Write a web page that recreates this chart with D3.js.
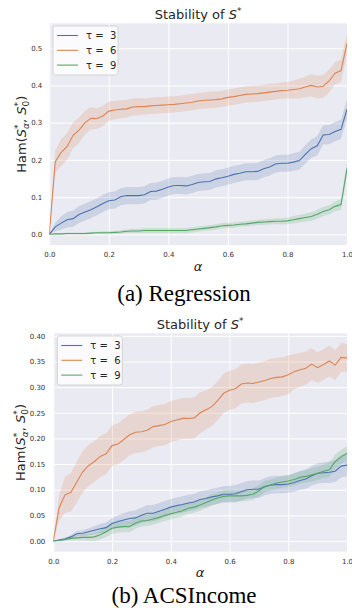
<!DOCTYPE html>
<html>
<head>
<meta charset="utf-8">
<script src="https://cdnjs.cloudflare.com/ajax/libs/d3/7.8.5/d3.min.js"></script>
<style>
  body { margin: 0; background: #fff; }
  svg { display: block; font-family: "DejaVu Sans", sans-serif; }
</style>
</head>
<body>
<div id="chart-area"></div>
<script>
// alpha grid (x values)
var alpha = [0, 0.02, 0.04, 0.06, 0.08, 0.10, 0.12, 0.14, 0.16, 0.18,
  0.20, 0.22, 0.24, 0.26, 0.28, 0.30, 0.32, 0.34, 0.36, 0.38,
  0.40, 0.42, 0.44, 0.46, 0.48, 0.50, 0.52, 0.54, 0.56, 0.58,
  0.60, 0.62, 0.64, 0.66, 0.68, 0.70, 0.72, 0.74, 0.76, 0.78,
  0.80, 0.82, 0.84, 0.86, 0.88, 0.90, 0.92, 0.94, 0.96, 0.98, 1.00];

var seriesNames = ["τ =  3", "τ =  6", "τ =  9"];
var xTicks = [0, 0.2, 0.4, 0.6, 0.8, 1.0];

// (a) Regression
var regTau3 = [0, .020, .030, .039, .042, .053, .060, .066, .074, .083, .090, .092, .101, .104, .104, .104, .106, .115, .116, .121,
  .127, .131, .131, .130, .134, .139, .141, .142, .149, .152, .156, .161, .164, .168, .168, .169, .176, .181, .189, .191,
  .191, .194, .198, .215, .230, .238, .267, .268, .276, .282, .336];
var regTau3Sd = [0, .012, .018, .021, .022, .023, .023, .023, .023, .023, .023, .023, .023, .023, .023, .023, .023, .023, .023, .023,
  .023, .023, .023, .023, .023, .023, .023, .023, .023, .023, .023, .023, .023, .023, .023, .023, .023, .023, .023, .023,
  .023, .024, .024, .025, .025, .026, .026, .026, .026, .026, .026];
var regTau6 = [0, .195, .220, .236, .266, .280, .300, .312, .311, .318, .331, .334, .336, .337, .342, .343, .343, .345, .346, .347,
  .348, .349, .351, .353, .355, .358, .360, .361, .362, .364, .368, .370, .373, .376, .377, .378, .380, .382, .384, .386,
  .387, .389, .391, .396, .400, .396, .398, .412, .433, .440, .513];
var regTau6Sd = [0, .030, .036, .036, .035, .034, .032, .030, .028, .027, .026, .025, .024, .024, .023, .023, .022, .022, .022, .022,
  .022, .022, .022, .022, .022, .022, .022, .022, .022, .022, .022, .022, .022, .022, .022, .022, .022, .022, .022, .022,
  .022, .024, .026, .028, .030, .031, .031, .031, .030, .030, .028];
var regTau9 = [0, .001, .001, .002, .002, .002, .002, .003, .004, .004, .004, .005, .006, .008, .009, .009, .010, .010, .010, .010,
  .010, .010, .010, .010, .012, .014, .016, .018, .020, .023, .024, .025, .027, .028, .030, .032, .033, .034, .035, .035,
  .036, .039, .042, .045, .048, .054, .061, .066, .075, .080, .177];
var regTau9Sd = [0, .002, .002, .003, .003, .003, .003, .003, .003, .004, .004, .004, .005, .005, .006, .006, .007, .007, .007, .007,
  .007, .007, .007, .007, .007, .007, .007, .007, .007, .007, .007, .007, .007, .007, .007, .007, .008, .008, .008, .009,
  .009, .010, .010, .011, .011, .012, .012, .012, .013, .014, .016];
var regYTicks = [0, 0.1, 0.2, 0.3, 0.4, 0.5];

// (b) ACSIncome
var incTau3 = [0, .002, .004, .008, .014, .015, .018, .021, .024, .026, .034, .038, .041, .044, .045, .050, .054, .054, .058, .062,
  .066, .069, .071, .074, .076, .081, .083, .086, .088, .091, .091, .092, .096, .100, .101, .101, .106, .109, .110, .110,
  .111, .114, .118, .121, .127, .132, .133, .134, .136, .146, .148];
var incTau3Sd = [0, .002, .003, .004, .005, .006, .007, .008, .009, .010, .011, .012, .013, .014, .015, .015, .016, .016, .016, .016,
  .016, .016, .016, .016, .016, .016, .016, .016, .016, .016, .016, .017, .017, .017, .017, .017, .017, .017, .017, .017,
  .017, .018, .018, .019, .019, .020, .020, .021, .021, .022, .022];
var incTau6 = [0, .065, .090, .095, .115, .135, .147, .155, .165, .170, .186, .189, .198, .207, .212, .213, .216, .223, .225, .227,
  .233, .236, .239, .239, .240, .250, .256, .262, .274, .288, .294, .297, .306, .308, .307, .310, .313, .317, .319, .320,
  .324, .330, .334, .337, .345, .338, .344, .351, .343, .358, .357];
var incTau6Sd = [0, .025, .035, .038, .040, .040, .040, .040, .040, .040, .040, .040, .040, .040, .040, .040, .040, .040, .040, .040,
  .040, .040, .040, .040, .040, .040, .038, .038, .038, .038, .038, .038, .038, .038, .038, .038, .038, .038, .038, .038,
  .038, .034, .033, .032, .031, .030, .030, .030, .029, .028, .027];
var incTau9 = [0, .001, .003, .005, .006, .007, .007, .008, .012, .018, .025, .027, .028, .028, .035, .039, .040, .043, .046, .050,
  .053, .056, .059, .064, .066, .070, .075, .080, .084, .087, .088, .088, .088, .089, .091, .098, .106, .109, .113, .115,
  .117, .120, .124, .126, .129, .132, .136, .139, .155, .164, .171];
var incTau9Sd = [0, .002, .003, .004, .005, .006, .007, .008, .009, .010, .011, .011, .011, .011, .011, .011, .011, .011, .011, .011,
  .011, .011, .011, .011, .011, .011, .011, .011, .011, .011, .011, .011, .011, .011, .011, .011, .011, .011, .011, .011,
  .011, .012, .012, .012, .013, .013, .013, .014, .014, .014, .014];
var incYTicks = [0, 0.05, 0.10, 0.15, 0.20, 0.25, 0.30, 0.35, 0.40];

var colors = ["#4C72B0", "#DD8452", "#55A868"];

var svg = d3.select("#chart-area")
  .append("svg")
    .attr("width", 352)
    .attr("height", 608);

function drawPanel(p) {
  var x = d3.scaleLinear().domain([0, 1]).range([p.left, p.right]);
  var y = d3.scaleLinear().domain(p.yDomain).range([p.bottom, p.top]);
  var w = p.right - p.left, h = p.bottom - p.top;

  var g = svg.append("g");

  // background
  g.append("rect")
    .attr("x", p.left).attr("y", p.top)
    .attr("width", w).attr("height", h)
    .attr("fill", "#EAEAF2");

  // grid
  g.append("g")
    .attr("transform", "translate(0," + p.bottom + ")")
    .call(d3.axisBottom(x).tickValues(xTicks).tickSize(-h).tickFormat(""))
    .call(function(s) { s.select(".domain").remove(); s.selectAll("line").attr("stroke", "#fff").attr("stroke-width", 1); });
  g.append("g")
    .attr("transform", "translate(" + p.left + ",0)")
    .call(d3.axisLeft(y).tickValues(p.yTicks).tickSize(-w).tickFormat(""))
    .call(function(s) { s.select(".domain").remove(); s.selectAll("line").attr("stroke", "#fff").attr("stroke-width", 1); });

  // tick labels
  g.append("g")
    .attr("transform", "translate(0," + p.bottom + ")")
    .call(d3.axisBottom(x).tickValues(xTicks).tickSize(0).tickPadding(7.5).tickFormat(d3.format(".1f")))
    .call(function(s) { s.select(".domain").remove(); s.selectAll("text").attr("fill", "#333").attr("font-size", "7px").attr("font-family", "DejaVu Sans"); });
  g.append("g")
    .attr("transform", "translate(" + p.left + ",0)")
    .call(d3.axisLeft(y).tickValues(p.yTicks).tickSize(0).tickPadding(p.yPad).tickFormat(d3.format(p.yFmt)))
    .call(function(s) { s.select(".domain").remove(); s.selectAll("text").attr("fill", "#333").attr("font-size", "7px").attr("font-family", "DejaVu Sans"); });

  var clipId = "clip" + p.id;
  svg.append("clipPath").attr("id", clipId)
    .append("rect").attr("x", p.left).attr("y", p.top).attr("width", w).attr("height", h);

  var plot = g.append("g").attr("clip-path", "url(#" + clipId + ")");

  // bands
  p.series.forEach(function(s, i) {
    var area = d3.area()
      .x(function(d, j) { return x(alpha[j]); })
      .y0(function(d, j) { return y(d - s.sd[j]); })
      .y1(function(d, j) { return y(d + s.sd[j]); });
    plot.append("path")
      .datum(s.values)
      .attr("d", area)
      .attr("fill", colors[i])
      .attr("fill-opacity", 0.2);
  });

  // lines
  p.series.forEach(function(s, i) {
    var line = d3.line()
      .x(function(d, j) { return x(alpha[j]); })
      .y(function(d) { return y(d); });
    plot.append("path")
      .datum(s.values)
      .attr("d", line)
      .attr("fill", "none")
      .attr("stroke", colors[i])
      .attr("stroke-width", 1.1);
  });

  // legend
  var lg = g.append("g").attr("transform", "translate(" + p.legend[0] + "," + p.legend[1] + ")");
  lg.append("rect")
    .attr("width", 65).attr("height", 49).attr("rx", 2.5)
    .attr("fill", "#fff").attr("fill-opacity", 0.8)
    .attr("stroke", "#ccc").attr("stroke-width", 0.8);
  seriesNames.forEach(function(name, i) {
    var ly = 9.5 + i * 14.8;
    lg.append("line")
      .attr("x1", 4).attr("x2", 25).attr("y1", ly).attr("y2", ly)
      .attr("stroke", colors[i]).attr("stroke-width", 1.1);
    lg.append("text")
      .attr("x", 33).attr("y", ly + 3.6)
      .attr("font-size", "10px")
      .attr("fill", "#262626")
      .style("white-space", "pre")
      .text(name);
  });

  // title
  var t = g.append("text")
    .attr("x", (p.left + p.right) / 2).attr("y", p.top - 4.5)
    .attr("text-anchor", "middle")
    .attr("font-size", "13px")
    .attr("fill", "#262626");
  t.append("tspan").text("Stability of ");
  t.append("tspan").attr("font-style", "italic").text("S");
  t.append("tspan").attr("font-size", "9px").attr("dy", -5).text("*");

  // x label
  g.append("text")
    .attr("x", (p.left + p.right) / 2).attr("y", p.bottom + 25.5)
    .attr("text-anchor", "middle")
    .attr("font-size", "13px")
    .attr("font-style", "italic")
    .attr("fill", "#262626")
    .text("α");

  // y label
  var yl = g.append("text")
    .attr("transform", "translate(" + p.yLabelX + "," + ((p.top + p.bottom) / 2) + ") rotate(-90)")
    .attr("text-anchor", "middle")
    .attr("font-size", "13px")
    .attr("fill", "#262626");
  yl.append("tspan").text("Ham(");
  yl.append("tspan").attr("font-style", "italic").text("S");
  yl.append("tspan").attr("font-size", "9px").attr("dy", -5).text("*");
  yl.append("tspan").attr("font-size", "9px").attr("font-style", "italic").attr("dx", -4.5).attr("dy", 8).text("α");
  yl.append("tspan").attr("dy", -3).text(", ");
  yl.append("tspan").attr("font-style", "italic").text("S");
  yl.append("tspan").attr("font-size", "9px").attr("dy", -5).text("*");
  yl.append("tspan").attr("font-size", "9px").attr("dx", -4.5).attr("dy", 8).text("0");
  yl.append("tspan").attr("dy", -3).text(")");

  // caption
  svg.append("text")
    .attr("x", 184).attr("y", p.caption[1])
    .attr("text-anchor", "middle")
    .attr("font-family", "Liberation Serif, serif")
    .attr("font-size", "23px")
    .attr("fill", "#000")
    .text(p.caption[0]);
}

drawPanel({
  id: "a", left: 49.3, right: 347, top: 23.3, bottom: 245,
  yDomain: [-0.0288, 0.567], yTicks: regYTicks, yFmt: ".1f", yPad: 7,
  series: [{ values: regTau3, sd: regTau3Sd }, { values: regTau6, sd: regTau6Sd }, { values: regTau9, sd: regTau9Sd }],
  legend: [53, 26], yLabelX: 26, caption: ["(a) Regression", 301]
});

drawPanel({
  id: "b", left: 53.3, right: 347, top: 333.3, bottom: 551.7,
  yDomain: [-0.0209, 0.405], yTicks: incYTicks, yFmt: ".2f", yPad: 8,
  series: [{ values: incTau3, sd: incTau3Sd }, { values: incTau6, sd: incTau6Sd }, { values: incTau9, sd: incTau9Sd }],
  legend: [57.3, 336], yLabelX: 25, caption: ["(b) ACSIncome", 603]
});
</script>
</body>
</html>
